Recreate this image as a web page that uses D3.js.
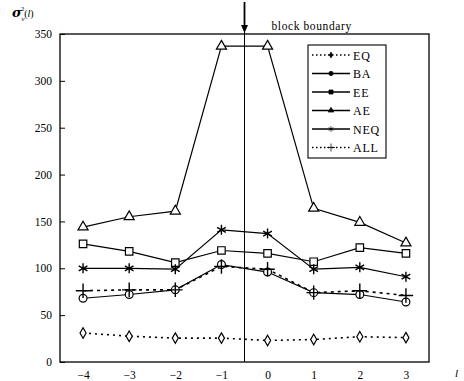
<!DOCTYPE html>
<html>
<head>
<meta charset="utf-8">
<script src="https://cdn.jsdelivr.net/npm/d3@7"></script>
<style>
  body { margin: 0; background: #fff; }
  text { font-family: "Liberation Serif", "DejaVu Serif", serif; fill: #000; }
</style>
</head>
<body>
<svg id="chart" width="464" height="381"></svg>
<script>
// data
var lags = [-4, -3, -2, -1, 0, 1, 2, 3];
var yTicks = [0, 50, 100, 150, 200, 250, 300, 350];
var seriesNames = ["EQ", "BA", "EE", "AE", "NEQ", "ALL"];
var EQ  = [31, 27.5, 25.5, 25.5, 23, 24, 27, 26];
var BA  = [68, 72, 77, 104, 96, 74, 72, 64];
var EE  = [126, 118, 106, 119, 116, 107, 122, 116];
var AE  = [144, 155, 161, 337, 337, 164, 149, 127];
var NEQ = [100, 100, 99, 141, 137, 99, 101, 91];
var ALL = [76, 77, 77, 102, 99, 74, 76, 71];

var margin = {top: 34, right: 35, bottom: 19, left: 60};

var svg = d3.select("#chart"),
  width = +svg.attr("width") - margin.left - margin.right,
  height = +svg.attr("height") - margin.top - margin.bottom;

var g = svg.append("g").attr("transform", "translate(" + margin.left + "," + margin.top + ")");

var x = d3.scaleLinear().domain([-4.5, 3.5]).range([0, width]);
var y = d3.scaleLinear().domain([0, 350]).range([height, 0]);

// frame
g.append("rect")
  .attr("width", width).attr("height", height)
  .attr("fill", "none").attr("stroke", "#000").attr("stroke-width", 1.3);

// y axis
var yAxis = g.append("g")
  .call(d3.axisLeft(y).tickValues(yTicks).tickSize(-5).tickPadding(8));
yAxis.select(".domain").remove();
yAxis.selectAll("text").style("font-size", "11.5px");

// x axis
var xAxis = g.append("g")
  .attr("transform", "translate(0," + height + ")")
  .call(d3.axisBottom(x).tickValues(lags).tickSize(0).tickPadding(9).tickFormat(d3.format("d")));
xAxis.select(".domain").remove();
xAxis.selectAll("text").style("font-size", "11.5px");

// block boundary line
g.append("line")
  .attr("x1", x(-0.5)).attr("x2", x(-0.5))
  .attr("y1", -32).attr("y2", height)
  .attr("stroke", "#000").attr("stroke-width", 1);
g.append("line")
  .attr("x1", x(-0.5)).attr("x2", x(-0.5))
  .attr("y1", -32).attr("y2", -6)
  .attr("stroke", "#000").attr("stroke-width", 1.8);
g.append("path")
  .attr("d", "M" + (x(-0.5) - 3.5) + ",-9 L" + (x(-0.5) + 3.5) + ",-9 L" + x(-0.5) + ",-1 Z")
  .attr("fill", "#000");
g.append("text")
  .attr("x", x(-0.5) + 27).attr("y", -4)
  .style("font-size", "11.5px")
  .style("letter-spacing", "0.6px")
  .text("block boundary");

// axis labels
var yl = svg.append("text").attr("x", 12).attr("y", 17).style("font-size", "13px");
yl.append("tspan").style("font-family", "DejaVu Serif").style("font-weight", "bold").style("font-style", "italic").text("\u03c3");
yl.append("tspan").attr("dy", 4).style("font-size", "7px").style("font-style", "italic").text("v");
yl.append("tspan").attr("dx", -4).attr("dy", -10).style("font-size", "7px").text("2");
yl.append("tspan").attr("dy", 6).style("font-size", "10px").text("(");
yl.append("tspan").style("font-size", "10px").style("font-style", "italic").text("l");
yl.append("tspan").style("font-size", "10px").text(")");

svg.append("text")
  .attr("x", 455).attr("y", 377)
  .style("font-size", "11px").style("font-style", "italic")
  .text("l");

// series
var series = [
  {name: "EQ", values: EQ, dash: "2,4", marker: "diamond"},
  {name: "BA", values: BA, dash: null, marker: "circle"},
  {name: "EE", values: EE, dash: null, marker: "square"},
  {name: "AE", values: AE, dash: null, marker: "triangle"},
  {name: "NEQ", values: NEQ, dash: null, marker: "star"},
  {name: "ALL", values: ALL, dash: "3,4", marker: "plus"}
];

var line = d3.line()
  .x(function(d, i) { return x(lags[i]); })
  .y(function(d) { return y(d); });

var symbols = {
  diamond: d3.symbol().type(d3.symbolDiamond).size(32),
  circle: d3.symbol().type(d3.symbolCircle).size(48),
  square: d3.symbol().type(d3.symbolSquare).size(56),
  triangle: d3.symbol().type(d3.symbolTriangle).size(44),
  star: d3.symbol().type(d3.symbolAsterisk).size(70),
  plus: d3.symbol().type(d3.symbolCross2 || d3.symbolPlus).size(70)
};

function drawMarker(sel, type) {
  var p = sel.append("path").attr("d", symbols[type]())
    .attr("stroke", "#000").attr("stroke-width", 1.2);
  if (type === "star" || type === "plus") p.attr("fill", "none").attr("stroke-width", 1.4);
  else p.attr("fill", "#fff");
  return p;
}

series.forEach(function(s) {
  g.append("path")
    .datum(s.values)
    .attr("d", line)
    .attr("fill", "none")
    .attr("stroke", "#000")
    .attr("stroke-width", s.dash ? 1.6 : 1.2)
    .attr("stroke-dasharray", s.dash);
});

series.forEach(function(s) {
  s.values.forEach(function(v, i) {
    var m = g.append("g").attr("transform", "translate(" + x(lags[i]) + "," + y(v) + ")");
    drawMarker(m, s.marker);
  });
});

// legend
var lg = g.append("g").attr("transform", "translate(248,11)");
lg.append("rect")
  .attr("width", 78).attr("height", 113)
  .attr("fill", "#fff").attr("stroke", "#000").attr("stroke-width", 1.1);
series.forEach(function(s, i) {
  var row = lg.append("g").attr("transform", "translate(0," + (10 + i * 18.5) + ")");
  row.append("line")
    .attr("x1", 4).attr("x2", 42)
    .attr("stroke", "#000")
    .attr("stroke-width", s.dash ? 1.4 : 1.3)
    .attr("stroke-dasharray", s.dash ? "1.5,2.5" : null);
  var m = row.append("g").attr("transform", "translate(23,0) scale(0.55)");
  drawMarker(m, s.marker).attr("fill", "#000");
  row.append("text")
    .attr("x", 45).attr("y", 4.5)
    .style("font-size", "12px")
    .style("letter-spacing", "0.8px")
    .text(s.name);
});
</script>
</body>
</html>
